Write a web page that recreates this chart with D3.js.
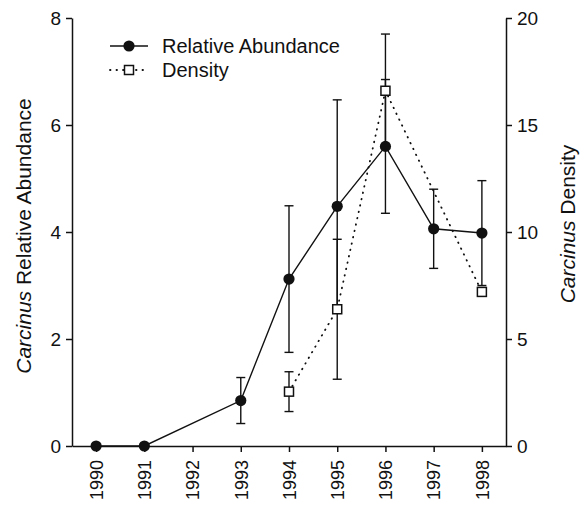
<!DOCTYPE html>
<html>
<head>
<meta charset="utf-8">
<script src="https://cdn.jsdelivr.net/npm/d3@7"></script>
<style>
  body { margin: 0; background: #fff; }
  text { font-family: "Liberation Sans", Arial, Helvetica, sans-serif; fill: #111; }
  .axis path, .axis line { stroke: #111; stroke-width: 1.5; }
</style>
</head>
<body>
<div id="chart"></div>
<script>
// Chart data
var years = [1990, 1991, 1993, 1994, 1995, 1996, 1997, 1998];
var abundance = [0, 0, 0.85, 3.12, 4.48, 5.6, 4.06, 3.98];
var abundanceSE = [0, 0, 0.43, 1.37, 1.99, 1.25, 0.74, 0.98];
var density = [null, null, null, 2.54, 6.39, 16.6, null, 7.2];
var densitySE = [null, null, null, 0.93, 3.27, 2.65, null, 0.2];
var xTicks = [1990, 1991, 1992, 1993, 1994, 1995, 1996, 1997, 1998];
var leftTicks = [0, 2, 4, 6, 8];
var rightTicks = [0, 5, 10, 15, 20];

var svgWidth = 581;
var svgHeight = 508;

var margin = { top: 18, right: 75, bottom: 62, left: 72 };
var width = svgWidth - margin.left - margin.right;
var height = svgHeight - margin.top - margin.bottom;

var svg = d3.select("#chart")
  .append("svg")
  .attr("width", svgWidth)
  .attr("height", svgHeight);

var chartGroup = svg.append("g")
  .attr("transform", `translate(${margin.left}, ${margin.top})`);

var xScale = d3.scaleLinear().domain([1989.5, 1998.5]).range([0, width]);
var yLeft = d3.scaleLinear().domain([0, 8]).range([height, 0]);
var yRight = d3.scaleLinear().domain([0, 20]).range([height, 0]);

// Axes
var bottomAxis = d3.axisBottom(xScale).tickValues(xTicks).tickFormat(d3.format("d"))
  .tickSize(6).tickSizeOuter(0).tickPadding(4);
var leftAxis = d3.axisLeft(yLeft).tickValues(leftTicks).tickSize(6).tickSizeOuter(0).tickPadding(5);
var rightAxis = d3.axisRight(yRight).tickValues(rightTicks).tickSize(6).tickSizeOuter(0).tickPadding(5);

var gx = chartGroup.append("g").attr("class", "axis")
  .attr("transform", `translate(0, ${height})`).call(bottomAxis);
gx.selectAll("text")
  .attr("transform", "rotate(-90)")
  .attr("text-anchor", "end")
  .attr("x", -14)
  .attr("y", 0)
  .attr("dy", "0.35em")
  .attr("font-size", 18);

chartGroup.append("g").attr("class", "axis").call(leftAxis)
  .selectAll("text").attr("font-size", 19);

chartGroup.append("g").attr("class", "axis")
  .attr("transform", `translate(${width}, 0)`).call(rightAxis)
  .selectAll("text").attr("font-size", 19);

svg.selectAll(".axis text").style("fill", "#111");
svg.selectAll(".domain").attr("stroke-width", 1.6);

// Axis titles
var leftTitle = svg.append("text")
  .attr("transform", `translate(31, ${margin.top + height / 2 + 4}) rotate(-90)`)
  .attr("text-anchor", "middle")
  .attr("font-size", 21);
leftTitle.append("tspan").attr("font-style", "italic").text("Carcinus");
leftTitle.append("tspan").text(" Relative Abundance");

var rightTitle = svg.append("text")
  .attr("transform", `translate(575, ${margin.top + height / 2 - 8}) rotate(-90)`)
  .attr("text-anchor", "middle")
  .attr("font-size", 21);
rightTitle.append("tspan").attr("font-style", "italic").text("Carcinus");
rightTitle.append("tspan").text(" Density");

// Build point tables
var abData = years.map((y, i) => ({ year: y, v: abundance[i], se: abundanceSE[i] }));
var deData = years.map((y, i) => ({ year: y, v: density[i], se: densitySE[i] }))
  .filter(d => d.v !== null);

var capW = 4.5;

function errorBars(data, yScale) {
  var g = chartGroup.append("g").attr("stroke", "#111").attr("stroke-width", 1.4);
  data.filter(d => d.se > 0).forEach(function(d) {
    var x = xScale(d.year);
    var y1 = yScale(d.v + d.se);
    var y2 = yScale(d.v - d.se);
    g.append("line").attr("x1", x).attr("x2", x).attr("y1", y1).attr("y2", y2);
    g.append("line").attr("x1", x - capW).attr("x2", x + capW).attr("y1", y1).attr("y2", y1);
    g.append("line").attr("x1", x - capW).attr("x2", x + capW).attr("y1", y2).attr("y2", y2);
  });
}

errorBars(deData, yRight);
errorBars(abData, yLeft);

// Density dotted line
var deLine = d3.line().x(d => xScale(d.year)).y(d => yRight(d.v));
chartGroup.append("path")
  .datum(deData)
  .attr("d", deLine)
  .attr("fill", "none")
  .attr("stroke", "#111")
  .attr("stroke-width", 1.8)
  .attr("stroke-linecap", "round")
  .attr("stroke-dasharray", "0.5,6");

// Abundance solid line
var abLine = d3.line().x(d => xScale(d.year)).y(d => yLeft(d.v));
chartGroup.append("path")
  .datum(abData)
  .attr("d", abLine)
  .attr("fill", "none")
  .attr("stroke", "#111")
  .attr("stroke-width", 1.4);

// Density squares
chartGroup.selectAll("rect.density")
  .data(deData)
  .enter()
  .append("rect")
  .attr("class", "density")
  .attr("x", d => xScale(d.year) - 4.5)
  .attr("y", d => yRight(d.v) - 4.5)
  .attr("width", 9)
  .attr("height", 9)
  .attr("fill", "#fff")
  .attr("stroke", "#111")
  .attr("stroke-width", 1.5);

// Abundance circles
chartGroup.selectAll("circle.abundance")
  .data(abData)
  .enter()
  .append("circle")
  .attr("class", "abundance")
  .attr("cx", d => xScale(d.year))
  .attr("cy", d => yLeft(d.v))
  .attr("r", 5.6)
  .attr("fill", "#111");

// Legend
var legend = svg.append("g");
legend.append("line").attr("x1", 110).attr("x2", 148).attr("y1", 46).attr("y2", 46)
  .attr("stroke", "#111").attr("stroke-width", 1.4);
legend.append("circle").attr("cx", 129).attr("cy", 46).attr("r", 5.6).attr("fill", "#111");
legend.append("text").attr("x", 162).attr("y", 53).attr("font-size", 20).text("Relative Abundance");

legend.append("line").attr("x1", 110).attr("x2", 148).attr("y1", 70).attr("y2", 70)
  .attr("stroke", "#111").attr("stroke-width", 1.8).attr("stroke-linecap", "round")
  .attr("stroke-dasharray", "0.5,6");
legend.append("rect").attr("x", 124.5).attr("y", 65.5).attr("width", 9).attr("height", 9)
  .attr("fill", "#fff").attr("stroke", "#111").attr("stroke-width", 1.5);
legend.append("text").attr("x", 162).attr("y", 77).attr("font-size", 20).text("Density");
</script>
</body>
</html>
